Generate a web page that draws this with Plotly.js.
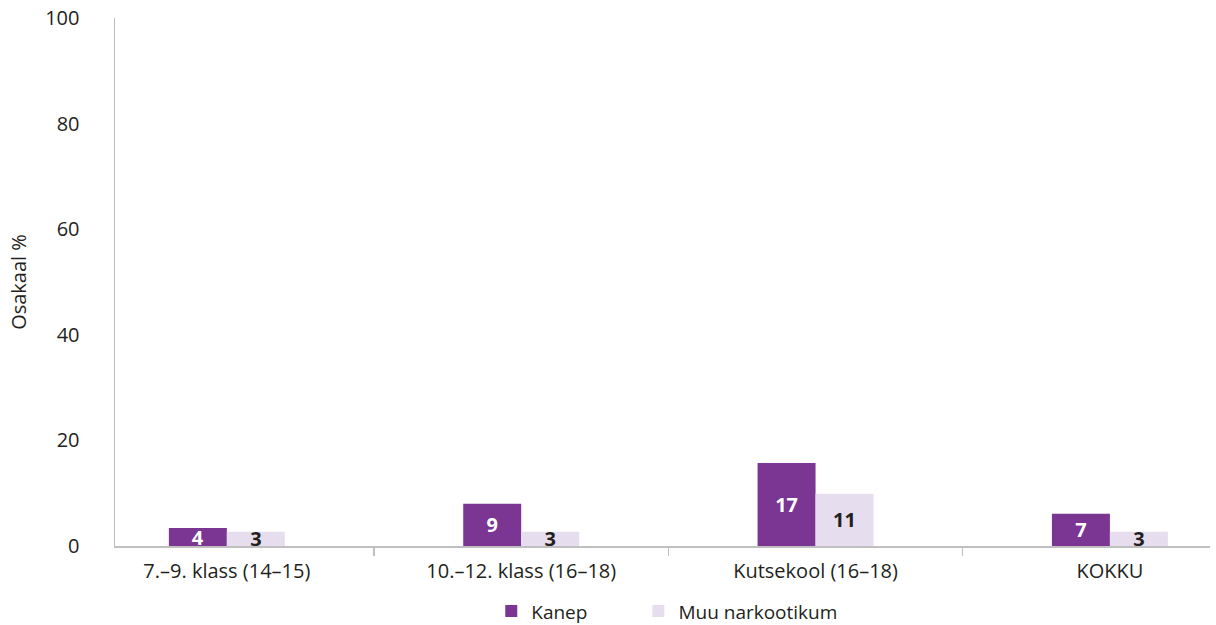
<!DOCTYPE html>
<html>
<head>
<meta charset="utf-8">
<script src="https://cdn.plot.ly/plotly-3.0.1.min.js"></script>
<style>
html,body{margin:0;padding:0;background:#fff;}
#chart{width:1216px;height:625px;}
</style>
</head>
<body>
<div id="chart"></div>
<script>
var categories = ["7.–9. klass (14–15)", "10.–12. klass (16–18)", "Kutsekool (16–18)", "KOKKU"];
var kanepValues = [3.4, 8.0, 15.7, 6.1];
var kanepLabels = ["4", "9", "17", "7"];
var muuValues = [2.7, 2.7, 9.9, 2.7];
var muuLabels = ["3", "3", "11", "3"];
var yTicks = [0, 20, 40, 60, 80, 100];

var FONT = "Open Sans, Noto Sans, sans-serif";

var traces = [
  {
    type: "bar",
    name: "Kanep",
    legend: "legend",
    x: categories,
    y: kanepValues,
    text: kanepLabels,
    textposition: "inside",
    insidetextanchor: "middle",
    textangle: 0,
    constraintext: "none",
    textfont: {family: FONT, size: 20, color: "#ffffff", weight: "bold"},
    marker: {color: "#7B3593"},
    hoverinfo: "none"
  },
  {
    type: "bar",
    name: "Muu narkootikum",
    legend: "legend2",
    x: categories,
    y: muuValues,
    text: muuLabels,
    textposition: "inside",
    insidetextanchor: "middle",
    textangle: 0,
    constraintext: "none",
    textfont: {family: FONT, size: 20, color: "#231F20", weight: "bold"},
    marker: {color: "#E6DEEE"},
    hoverinfo: "none"
  }
];

var legendFont = {family: FONT, size: 19, color: "#231F20"};

var layout = {
  width: 1216,
  height: 625,
  margin: {l: 115, r: 6, t: 18, b: 79},
  paper_bgcolor: "#ffffff",
  plot_bgcolor: "#ffffff",
  font: {family: FONT, size: 20, color: "#231F20"},
  barmode: "group",
  bargap: 0.606,
  bargroupgap: 0,
  showlegend: true,
  legend: {
    orientation: "h",
    xref: "container",
    x: 0.404,
    xanchor: "left",
    yref: "container",
    y: 0.022,
    yanchor: "middle",
    font: legendFont
  },
  legend2: {
    orientation: "h",
    xref: "container",
    x: 0.525,
    xanchor: "left",
    yref: "container",
    y: 0.022,
    yanchor: "middle",
    font: legendFont
  },
  xaxis: {
    type: "category",
    range: [-0.38, 3.34],
    showline: true,
    linecolor: "#BFBFBF",
    linewidth: 1.5,
    ticks: "outside",
    tickson: "boundaries",
    ticklen: 8,
    tickwidth: 1.5,
    tickcolor: "#BFBFBF",
    showgrid: false,
    zeroline: false,
    ticklabelstandoff: 6,
    tickfont: {family: FONT, size: 20, color: "#231F20"},
    fixedrange: true
  },
  yaxis: {
    range: [0, 100],
    tickvals: yTicks,
    ticktext: yTicks.map(String),
    showline: true,
    linecolor: "#BFBFBF",
    linewidth: 1.5,
    ticks: "",
    showgrid: false,
    zeroline: false,
    tickfont: {family: FONT, size: 20, color: "#231F20"},
    ticklabelstandoff: 30,
    title: {text: "Osakaal %", font: {family: FONT, size: 20, color: "#231F20"}, standoff: 13},
    fixedrange: true
  }
};

Plotly.newPlot("chart", traces, layout, {displayModeBar: false, staticPlot: true});
</script>
</body>
</html>
